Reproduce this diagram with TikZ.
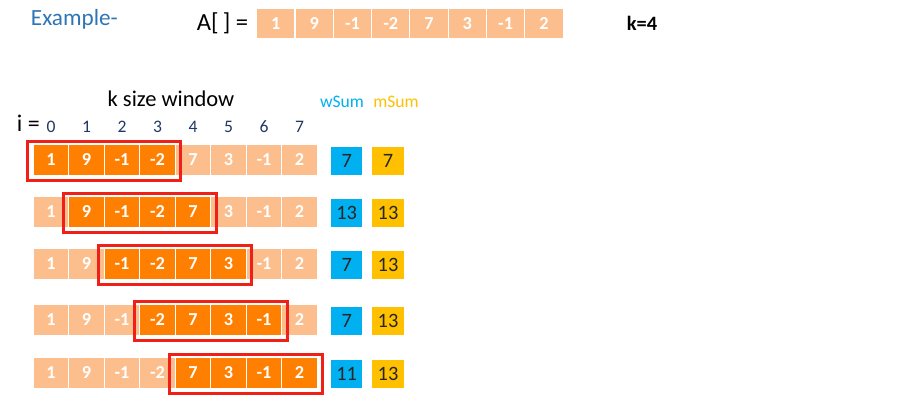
\documentclass[tikz,border=0pt]{standalone}
\usepackage{fontspec}
\setmainfont{Carlito}
\usetikzlibrary{positioning,fit}
\definecolor{cellLight}{RGB}{251,190,140}
\definecolor{cellDark}{RGB}{255,127,0}
\definecolor{winRed}{RGB}{238,32,24}
\definecolor{wsumBlue}{RGB}{0,176,240}
\definecolor{msumGold}{RGB}{255,192,0}
\definecolor{idxNavy}{RGB}{31,56,100}
\definecolor{titleBlue}{RGB}{46,117,182}
\tikzset{
  cell/.style={fill=cellLight, draw=white, line width=0.8pt, minimum width=0.8875cm,
    minimum height=0.76cm, inner sep=0pt, text=white, font=\fontsize{13}{14}\selectfont\bfseries},
  topcell/.style={cell, minimum width=0.9575cm, minimum height=0.74cm},
  incell/.style={cell, fill=cellDark},
  winbox/.style={draw=winRed, line width=2.2pt, inner xsep=0.125cm, inner ysep=0.09cm},
  sumbox/.style={minimum width=0.78cm, minimum height=0.68cm, inner sep=0pt,
    text=black!85, font=\fontsize{14.5}{15}\selectfont}
}

\begin{document}
\begin{tikzpicture}[x=0.025cm, y=-0.025cm]
\useasboundingbox (0,0) rectangle (902,414);
\node[anchor=west, text=titleBlue, font=\fontsize{16.5}{17}\selectfont] (title) at (26,19) {Example-};
\node[anchor=west, font=\fontsize{17.5}{18}\selectfont] (alabel) at (192,23) {A[\,] =};
\foreach \v [count=\c from 0] in {1,9,-1,-2,7,3,-1,2}
{
\node[topcell] (a\c) at (275.85+38.3*\c,23.5) {\v};
}
\node[font=\fontsize{14.5}{15}\selectfont\bfseries] (kval) at (642,23) {k=4};
\node[font=\fontsize{16}{17}\selectfont] (wlabel) at (171,99) {k size window};
\node[text=wsumBlue, font=\fontsize{12.5}{13}\selectfont] (wsumlabel) at (342,102) {wSum};
\node[text=msumGold, font=\fontsize{12.5}{13}\selectfont] (msumlabel) at (396,102) {mSum};
\node[anchor=west, font=\fontsize{17}{18}\selectfont] (ilabel) at (12,123) {i =};
\foreach \r/\ry/\ws/\ms in {0/160/7/7,1/212/13/13,2/264/7/13,3/320/7/13,4/373/11/13}
{
\foreach \v [count=\c from 0] in {1,9,-1,-2,7,3,-1,2}
{
\def\cs{cell}
\ifnum\c<\r\else\ifnum\c>\numexpr\r+3\relax\else\def\cs{incell}\fi\fi
\node[\cs] (c\r-\c) at (51.05+35.5*\c,\ry) {\v};
}
\pgfmathtruncatemacro\last{\r+3}
\node[winbox, fit=(c\r-\r)(c\r-\last), yshift=-0.03cm] (win\r) {};
\node[sumbox, fill=wsumBlue] (w\r) at (346.7,\ry+1) {\ws};
\node[sumbox, fill=msumGold] (m\r) at (388,\ry+1) {\ms};
}
\foreach \c in {0,...,7}
{
\node[text=idxNavy, font=\fontsize{12.5}{13}\selectfont] (i\c) at (c0-\c |- 0,127) {\c};
}
\end{tikzpicture}
\end{document}
